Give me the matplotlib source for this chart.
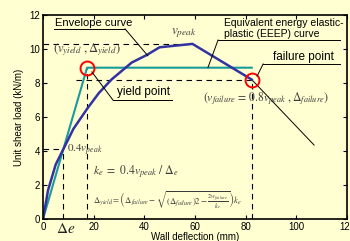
import matplotlib
matplotlib.use('Agg')
import matplotlib.pyplot as plt

plt.rcParams['font.family'] = ['Liberation Sans', 'DejaVu Sans']
plt.rcParams['mathtext.fontset'] = 'stix'

# envelope curve (wall deflection mm, unit shear kN/m)
env_x = [0, 2, 5, 8, 12, 17.5, 22, 27, 35, 41, 46, 59, 82.4]
env_y = [0, 1.7, 3.2, 4.1, 5.3, 6.5, 7.4, 8.2, 9.2, 9.65, 10.1, 10.3, 8.2]
# post failure branch
post_x = [82.4, 107]
post_y = [8.2, 4.35]
# EEEP curve
eeep_x = [0, 17.4, 82.4]
eeep_y = [0, 8.9, 8.9]

v_peak = 10.3
v_fail = 8.2
v_04 = 4.1
v_yield = 8.9
d_e = 7.9
d_yield = 17.4
d_fail = 82.4
x_peak = 59

xticks = [0, 20, 40, 60, 80, 100, 120]
yticks = [0, 2, 4, 6, 8, 10, 12]

bg = '#ffffd2'
blue = '#3232a0'
teal = '#1a9b9b'
gray = '#3c3c3c'

fig = plt.figure(figsize=(3.5, 2.41), dpi=100, facecolor=bg)
ax = fig.add_axes([0.1229, 0.0913, 0.8685, 0.8465], facecolor=bg)

dash = (0, (5, 4))
ax.plot([0, x_peak], [v_peak, v_peak], color='k', lw=0.8, ls=dash)
ax.plot([13, d_fail], [v_fail, v_fail], color='k', lw=0.8, ls=dash)
ax.plot([0, d_e], [v_04, v_04], color='k', lw=0.8, ls=dash)
ax.plot([d_e, d_e], [0, v_04], color='k', lw=0.8, ls=dash)
ax.plot([d_yield, d_yield], [0, v_yield], color='k', lw=0.8, ls=dash)
ax.plot([d_fail, d_fail], [0, v_fail], color='k', lw=0.8, ls=dash)

ax.plot(post_x, post_y, color='k', lw=0.7)
ax.plot(eeep_x, eeep_y, color=teal, lw=1.5)
ax.plot(env_x, env_y, color=blue, lw=1.8)

ax.plot([d_yield, d_fail], [v_yield, v_fail], ls='none', marker='o', ms=10,
        mfc='none', mec='red', mew=1.4)

# labels with underline + leader lines
def label(txt, tx, ty, ul_x0, ul_x1, ul_y, tip_x, tip_y, start_right=False, size=8, **kw):
    ax.text(tx, ty, txt, fontsize=size, ha='left', va='center', **kw)
    ax.plot([ul_x0, ul_x1], [ul_y, ul_y], color='k', lw=0.7, clip_on=False)
    sx = ul_x1 if start_right else ul_x0
    ax.plot([sx, tip_x], [ul_y, tip_y], color='k', lw=0.7, clip_on=False)

label('Envelope curve', 4.7, 11.55, 4.3, 32.4, 11.18, 41.4, 9.6, start_right=True)
label('Equivalent energy elastic-\nplastic (EEEP) curve', 71.3, 11.22, 69.1, 117.2, 10.53,
      65.1, 8.9, size=7.5, linespacing=1.1)
label('failure point', 90.8, 9.55, 86.9, 117.2, 9.12, 84.5, 8.4, size=8.5)
label('yield point', 29.2, 7.45, 27.6, 50.9, 7.0, 19.3, 8.65, size=8.5)

ax.text(17.4, 9.95, r'$(v_{yield}\ ,\Delta_{yield})$', fontsize=9, color=gray,
        ha='center', va='center')
ax.text(55.5, 10.95, r'$v_{peak}$', fontsize=9.5, color=gray, ha='center', va='center')
ax.text(88, 7.1, r'$(v_{failure}\,=\,0.8v_{peak}\ ,\Delta_{failure})$', fontsize=8.5,
        color=gray, ha='center', va='center')
ax.text(9.3, 4.05, r'$0.4v_{peak}$', fontsize=8, color=gray, ha='left', va='center')
ax.text(36.5, 2.75, r'$k_e\ =\ 0.4v_{peak}\ /\ \Delta_e$', fontsize=8.5, color=gray,
        ha='center', va='center')
ax.text(49, 1.1,
        r'$\Delta_{yield}=\left(\Delta_{failure}-\sqrt{(\Delta_{failure})2-\frac{2w_{failure}}{k_e}}\right)k_e$',
        fontsize=6.2, color=gray, ha='center', va='center')
ax.text(d_e + 1, -0.2, r'$\Delta e$', fontsize=11, color='#222222', ha='center', va='top')

ax.set_xlim(0, 120)
ax.set_ylim(0, 12)
ax.set_xticks(xticks)
ax.set_yticks(yticks)
ax.tick_params(direction='in', top=True, right=True, labelsize=7, length=3, width=0.8, pad=2)
for s in ax.spines.values():
    s.set_linewidth(1.2)
ax.set_xlabel('Wall deflection (mm)', fontsize=7, labelpad=0)
ax.set_ylabel('Unit shear load (kN/m)', fontsize=7, labelpad=4)

fig.savefig('out.png', dpi=100, facecolor=bg)
